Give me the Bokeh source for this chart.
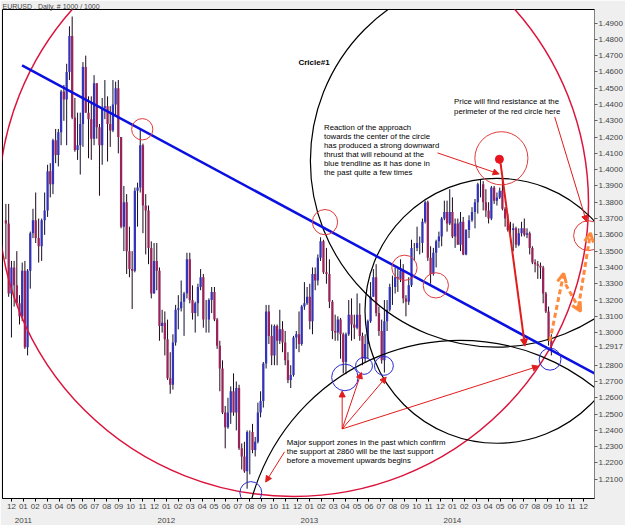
import pandas as pd
from bokeh.plotting import figure
from bokeh.models import (Range1d, LinearAxis, FixedTicker, PrintfTickFormatter,
                          Arrow, NormalHead, OpenHead, ColumnDataSource)
from bokeh.core.properties import value
from bokeh.embed import file_html
from bokeh.resources import INLINE

# ---------------- weekly EUR/USD bars ----------------
first_week = "2010-11-15"
first_open = 1.3690
week_high = [
    1.3790, 1.3790, 1.3440, 1.3440, 1.3500, 1.3230, 1.3430,
    1.3440, 1.3390, 1.3620, 1.3760, 1.3860, 1.3700, 1.3700, 1.3860, 1.4030, 1.4040, 1.4190, 1.4250,
    1.4250, 1.4490, 1.4520, 1.4650, 1.4880, 1.4940, 1.4440, 1.4350, 1.4350, 1.4660, 1.4700, 1.4450,
    1.4450, 1.4580, 1.4530, 1.4280, 1.4440, 1.4550, 1.4450, 1.4390, 1.4550, 1.4540, 1.4550, 1.4200,
    1.3900, 1.3850, 1.3650, 1.3500, 1.3890, 1.3920, 1.4245, 1.4160, 1.3850, 1.3780, 1.3560, 1.3550,
    1.3550, 1.3400, 1.3140, 1.3130,
    1.3080, 1.2880, 1.2990, 1.3170, 1.3230, 1.3320, 1.3250, 1.3490, 1.3490, 1.3290, 1.3190, 1.3300,
    1.3390, 1.3360, 1.3200, 1.3210, 1.3280, 1.3280, 1.3090, 1.2950, 1.2830, 1.2550, 1.2600, 1.2670,
    1.2750, 1.2700, 1.2680, 1.2320, 1.2330, 1.2400, 1.2400, 1.2440, 1.2360, 1.2570, 1.2640, 1.2820,
    1.3170, 1.3170, 1.3050, 1.3050, 1.3050, 1.3140, 1.3070, 1.3010, 1.2880, 1.2800, 1.2980, 1.3010,
    1.3130, 1.3170, 1.3310, 1.3280, 1.3300,
    1.3400, 1.3400, 1.3480, 1.3585, 1.3570, 1.3520, 1.3450, 1.3200, 1.3110, 1.3100, 1.3090, 1.3000,
    1.3000, 1.3200, 1.3210, 1.3110, 1.3240, 1.3180, 1.3000, 1.2990, 1.3080, 1.3310, 1.3390, 1.3420,
    1.3160, 1.3080, 1.3200, 1.3200, 1.3300, 1.3350, 1.3400, 1.3390, 1.3450, 1.3420, 1.3230, 1.3340,
    1.3570, 1.3550, 1.3650, 1.3590, 1.3700, 1.3810, 1.3810, 1.3530, 1.3520, 1.3570, 1.3620, 1.3710,
    1.3810, 1.3810, 1.3880, 1.3830,
    1.3700, 1.3700, 1.3740, 1.3710, 1.3635, 1.3720, 1.3770, 1.3820, 1.3920, 1.3940, 1.3930, 1.3880,
    1.3800, 1.3900, 1.3900, 1.3860, 1.3890, 1.3955, 1.3770, 1.3730, 1.3680, 1.3670, 1.3650, 1.3640,
    1.3680, 1.3700, 1.3640, 1.3620, 1.3530, 1.3450, 1.3440, 1.3430, 1.3410, 1.3250, 1.3160, 1.2990,
]
week_low = [
    1.3450, 1.3220, 1.2970, 1.3160, 1.3170, 1.3050, 1.3070,
    1.2900, 1.2860, 1.3270, 1.3580, 1.3550, 1.3430, 1.3440, 1.3600, 1.3710, 1.3830, 1.3850, 1.4040,
    1.4020, 1.4150, 1.4300, 1.4150, 1.4550, 1.4310, 1.4110, 1.4060, 1.3970, 1.4140, 1.4350, 1.4070,
    1.4060, 1.4150, 1.4190, 1.3840, 1.4030, 1.4310, 1.4050, 1.4140, 1.4230, 1.4330, 1.4100, 1.3640,
    1.3500, 1.3360, 1.3340, 1.3145, 1.3370, 1.3650, 1.3860, 1.3610, 1.3480, 1.3420, 1.3210, 1.3240,
    1.3260, 1.2950, 1.3000, 1.2860,
    1.2710, 1.2625, 1.2650, 1.2920, 1.3020, 1.3130, 1.2980, 1.3210, 1.3180, 1.3080, 1.3000, 1.3100,
    1.3260, 1.3030, 1.3000, 1.3000, 1.3120, 1.3070, 1.2900, 1.2640, 1.2500, 1.2290, 1.2410, 1.2440,
    1.2490, 1.2400, 1.2280, 1.2160, 1.2140, 1.2042, 1.2130, 1.2260, 1.2240, 1.2320, 1.2480, 1.2540,
    1.2780, 1.2930, 1.2800, 1.2800, 1.2800, 1.2930, 1.2880, 1.2800, 1.2690, 1.2660, 1.2730, 1.2900,
    1.2880, 1.2920, 1.3140, 1.3170, 1.3020,
    1.2990, 1.3260, 1.3290, 1.3440, 1.3360, 1.3300, 1.3150, 1.2960, 1.2950, 1.2950, 1.2840, 1.2750,
    1.2745, 1.2980, 1.2950, 1.2960, 1.3020, 1.2950, 1.2800, 1.2820, 1.2840, 1.3060, 1.3220, 1.3100,
    1.2980, 1.2810, 1.2755, 1.3010, 1.3130, 1.3170, 1.3240, 1.3250, 1.3310, 1.3180, 1.3100, 1.3170,
    1.3280, 1.3440, 1.3500, 1.3480, 1.3490, 1.3670, 1.3440, 1.3300, 1.3350, 1.3400, 1.3520, 1.3530,
    1.3690, 1.3620, 1.3660, 1.3580,
    1.3520, 1.3540, 1.3500, 1.3475, 1.3475, 1.3580, 1.3680, 1.3640, 1.3730, 1.3830, 1.3750, 1.3710,
    1.3670, 1.3690, 1.3790, 1.3780, 1.3820, 1.3750, 1.3650, 1.3620, 1.3590, 1.3500, 1.3520, 1.3530,
    1.3590, 1.3590, 1.3580, 1.3480, 1.3420, 1.3370, 1.3330, 1.3330, 1.3180, 1.3120, 1.2920, 1.2860,
]
week_close = [
    1.3670, 1.3240, 1.3400, 1.3290, 1.3180, 1.3100, 1.3380,
    1.2910, 1.3380, 1.3610, 1.3690, 1.3580, 1.3530, 1.3690, 1.3750, 1.3990, 1.3910, 1.4180, 1.4090,
    1.4230, 1.4480, 1.4430, 1.4600, 1.4820, 1.4320, 1.4120, 1.4150, 1.4280, 1.4630, 1.4350, 1.4310,
    1.4190, 1.4530, 1.4260, 1.4150, 1.4380, 1.4390, 1.4280, 1.4240, 1.4400, 1.4500, 1.4200, 1.3650,
    1.3800, 1.3500, 1.3390, 1.3380, 1.3870, 1.3890, 1.4150, 1.3780, 1.3750, 1.3520, 1.3240, 1.3440,
    1.3380, 1.3040, 1.3060, 1.2960,
    1.2720, 1.2680, 1.2940, 1.3140, 1.3150, 1.3190, 1.3240, 1.3450, 1.3200, 1.3120, 1.3180, 1.3280,
    1.3340, 1.3080, 1.3080, 1.3200, 1.3250, 1.3080, 1.2920, 1.2780, 1.2510, 1.2420, 1.2510, 1.2640,
    1.2510, 1.2660, 1.2290, 1.2240, 1.2150, 1.2390, 1.2390, 1.2280, 1.2330, 1.2510, 1.2580, 1.2810,
    1.3130, 1.2980, 1.2860, 1.3040, 1.2950, 1.3020, 1.2940, 1.2830, 1.2710, 1.2740, 1.2970, 1.2990,
    1.2930, 1.3160, 1.3180, 1.3220, 1.3070,
    1.3360, 1.3320, 1.3460, 1.3560, 1.3370, 1.3360, 1.3190, 1.3010, 1.3000, 1.3080, 1.2990, 1.2820,
    1.2990, 1.3110, 1.3050, 1.3030, 1.3110, 1.2980, 1.2840, 1.2930, 1.3070, 1.3220, 1.3340, 1.3120,
    1.3010, 1.2830, 1.3070, 1.3140, 1.3280, 1.3280, 1.3340, 1.3330, 1.3380, 1.3210, 1.3190, 1.3290,
    1.3520, 1.3520, 1.3550, 1.3550, 1.3680, 1.3800, 1.3460, 1.3360, 1.3490, 1.3560, 1.3590, 1.3700,
    1.3740, 1.3670, 1.3740, 1.3590,
    1.3670, 1.3540, 1.3680, 1.3480, 1.3630, 1.3690, 1.3740, 1.3800, 1.3910, 1.3910, 1.3800, 1.3750,
    1.3700, 1.3890, 1.3810, 1.3830, 1.3870, 1.3760, 1.3700, 1.3630, 1.3630, 1.3640, 1.3540, 1.3610,
    1.3640, 1.3600, 1.3610, 1.3520, 1.3430, 1.3420, 1.3410, 1.3400, 1.3240, 1.3130, 1.2950, 1.2917,
]
last_price = 1.2917

# axis: months counted from 1 Dec 2010
month_ticks = list(range(49))
year_ticks = [1, 13, 25, 37]
year_names = ["2011", "2012", "2013", "2014"]
price_ticks = [1.21, 1.22, 1.23, 1.24, 1.25, 1.26, 1.27, 1.28, 1.30, 1.31, 1.32, 1.33, 1.34,
               1.35, 1.36, 1.37, 1.38, 1.39, 1.40, 1.41, 1.42, 1.43, 1.44, 1.45, 1.46, 1.47,
               1.48, 1.49]

# ---------------- drawn objects (month index, price) ----------------
trend_k = [0.89, 48.92]
trend_p = [1.4640, 1.2749]

big_red_k, big_red_p, big_red_w, big_red_h = [23.667], [1.3794], [49.5], [0.3600]

black_k = [40.667, 40.75, 37.633]
black_p = [1.4054, 1.3134, 1.1622]
black_w = [31.17, 22.17, 36.28]
black_h = [0.2286, 0.1626, 0.2661]

redc_k = [10.975, 26.308, 32.975, 35.608, 41.108, 48.417]
redc_p = [1.4248, 1.3678, 1.3398, 1.3290, 1.4070, 1.3595]
redc_w = [1.783, 2.117, 2.117, 2.117, 4.45, 2.5]
redc_h = [0.0131, 0.0155, 0.0155, 0.0155, 0.0326, 0.0183]

bluec_k = [20.083, 27.975, 29.583, 31.25, 45.192]
bluec_p = [1.2018, 1.2725, 1.2796, 1.2796, 1.2837]
bluec_w = [1.833, 2.217, 1.417, 1.583, 1.833]
bluec_h = [0.0135, 0.0163, 0.0104, 0.0116, 0.0135]

dot_k, dot_p = [40.942], [1.4064]

thin_arrows = dict(
    x0=[35.75, 45.583, 27.75, 27.75, 27.75, 27.75, 22.917],
    y0=[1.4103, 1.4323, 1.2409, 1.2409, 1.2409, 1.2409, 1.2269],
    x1=[40.917, 48.25, 27.75, 29.358, 31.442, 44.225, 21.333],
    y1=[1.3974, 1.3681, 1.2642, 1.2756, 1.2727, 1.2794, 1.2083],
)
drop_arrow = dict(x0=[41.0], y0=[1.4060], x1=[43.083], y1=[1.2917])
orange_arrows = dict(
    x0=[45.167, 46.5, 47.583],
    y0=[1.2947, 1.3296, 1.3161],
    x1=[46.333, 47.75, 48.583],
    y1=[1.3363, 1.3131, 1.3611],
)

circle_label = "Cricle#1"
circle_label_at = (24.083, 1.4659)
reaction_lines = ["Reaction of the approach", "towards the center of the circle",
                  "has produced a strong downward", "thrust that will rebound at the",
                  "blue trendline as it has done in", "the past quite a few times"]
price_lines = ["Price will find resistance at the", "perimeter of the red circle here"]
major_lines = ["Major support zones in the past which confirm",
               "the support at 2860 will be the last support",
               "before a movement upwards begins"]
title_text = "EURUSD , Daily, # 1000 / 1000"

# ---------------- derived positions ----------------
starts = pd.date_range(first_week, periods=len(week_close), freq="7D")
mids = starts + pd.Timedelta(days=2)
wk = ((mids.year - 2010) * 12 + (mids.month - 12) + (mids.day - 1) / mids.days_in_month).to_numpy()
opens = [first_open] + week_close[:-1]
up = [c >= o for o, c in zip(opens, week_close)]
bars = ColumnDataSource(dict(
    k=wk, high=week_high, low=week_low,
    top=[max(o, c) for o, c in zip(opens, week_close)],
    bottom=[min(o, c) for o, c in zip(opens, week_close)],
    body=["#3434b8" if u else "#98245a" for u in up],
    wick=["#101030" if u else "#200818" for u in up],
))

FONT = value("Liberation Sans")

p = figure(width=625, height=525, output_backend="svg", toolbar_location=None,
           x_range=Range1d(-0.75, 48.92), y_range=Range1d(1.1982, 1.4983),
           y_axis_location="right", min_border_left=2, min_border_right=27,
           min_border_top=9, min_border_bottom=22)
p.background_fill_color = "white"
p.border_fill_color = "#EFEFEF"
p.outline_line_color = "black"
p.xgrid.visible = False
p.ygrid.visible = False

p.title.text = title_text
p.title.text_font = "Liberation Sans"
p.title.text_font_size = "7px"
p.title.text_font_style = "normal"
p.title.align = "left"
p.title.offset = 0
p.title.standoff = 0

# axes (the current price is shown on the price scale as well)
ya = p.yaxis[0]
ya.ticker = FixedTicker(ticks=sorted(price_ticks + [last_price]))
ya.formatter = PrintfTickFormatter(format="%.4f")
ya.major_label_overrides = {last_price: "%.4f" % last_price}
ya.major_label_text_font = "Liberation Sans"
ya.major_label_text_font_size = "8px"
ya.major_label_standoff = 1
ya.major_tick_out = 3
ya.major_tick_in = 0
ya.minor_tick_line_color = None
ya.axis_line_color = "#808080"
ya.major_tick_line_color = "#606060"

xa = p.xaxis[0]
xa.ticker = FixedTicker(ticks=month_ticks)
xa.major_label_overrides = {k: "%02d" % ((11 + k) % 12 + 1) for k in month_ticks}
xa.major_label_text_font = "Liberation Sans"
xa.major_label_text_font_size = "8px"
xa.major_label_standoff = 2
xa.major_tick_out = 3
xa.major_tick_in = 0
xa.minor_tick_line_color = None

yr = LinearAxis(ticker=FixedTicker(ticks=year_ticks),
                major_label_overrides=dict(zip(year_ticks, year_names)))
yr.axis_line_color = None
yr.major_tick_line_color = None
yr.minor_tick_line_color = None
yr.major_label_standoff = 0
yr.major_label_text_font = "Liberation Sans"
yr.major_label_text_font_size = "8px"
p.add_layout(yr, "below")

# price bars
p.segment(x0="k", y0="low", x1="k", y1="high", source=bars, line_color="wick", line_width=1)
p.vbar(x="k", top="top", bottom="bottom", width=0.19, source=bars, fill_color="body",
       line_color=None)

# drawn objects
p.ellipse(x=big_red_k, y=big_red_p, width=big_red_w, height=big_red_h,
          fill_color=None, line_color="#dc143c", line_width=1.5)
p.ellipse(x=black_k, y=black_p, width=black_w, height=black_h,
          fill_color=None, line_color="black", line_width=1.2)
p.line(trend_k, trend_p, line_color="#0a10e0", line_width=2.5)
p.ellipse(x=redc_k, y=redc_p, width=redc_w, height=redc_h,
          fill_color=None, line_color="#e03a3a", line_width=1)
p.ellipse(x=bluec_k, y=bluec_p, width=bluec_w, height=bluec_h,
          fill_color=None, line_color="#2a2ad0", line_width=1)
p.scatter(dot_k, dot_p, size=8, color="#e8141e")

p.add_layout(Arrow(source=ColumnDataSource(thin_arrows), x_start="x0", y_start="y0",
                   x_end="x1", y_end="y1", line_color="#e01c1c", line_width=1,
                   end=NormalHead(size=6, fill_color="#e01c1c", line_color="#e01c1c")))
p.add_layout(Arrow(source=ColumnDataSource(drop_arrow), x_start="x0", y_start="y0",
                   x_end="x1", y_end="y1", line_color="#e01c1c", line_width=2,
                   end=NormalHead(size=7, fill_color="#e01c1c", line_color="#e01c1c")))
p.add_layout(Arrow(source=ColumnDataSource(orange_arrows), x_start="x0", y_start="y0",
                   x_end="x1", y_end="y1", line_color="#ff8a3c", line_width=3,
                   line_dash="5 3",
                   end=OpenHead(size=9, line_color="#ff8a3c", line_width=3)))

# texts
p.text([circle_label_at[0]], [circle_label_at[1]], [circle_label], text_font=FONT,
       text_font_size=value("8px"), text_font_style="bold", text_baseline="middle",
       text_color="black")
step_r = 0.00556
p.text([26.225] * len(reaction_lines), [1.4260 - i * step_r for i in range(len(reaction_lines))],
       reaction_lines, text_font=FONT, text_font_size=value("7.8px"), text_baseline="middle",
       text_color="black")
step_p = 0.00611
p.text([37.142] * len(price_lines), [1.4416 - i * step_p for i in range(len(price_lines))],
       price_lines, text_font=FONT, text_font_size=value("7.8px"), text_baseline="middle",
       text_color="black")
step_m = 0.00532
p.text([23.108] * len(major_lines), [1.2324 - i * step_m for i in range(len(major_lines))],
       major_lines, text_font=FONT, text_font_size=value("7.8px"), text_baseline="middle",
       text_color="black")

open("out.html", "w").write(file_html(p, INLINE))
